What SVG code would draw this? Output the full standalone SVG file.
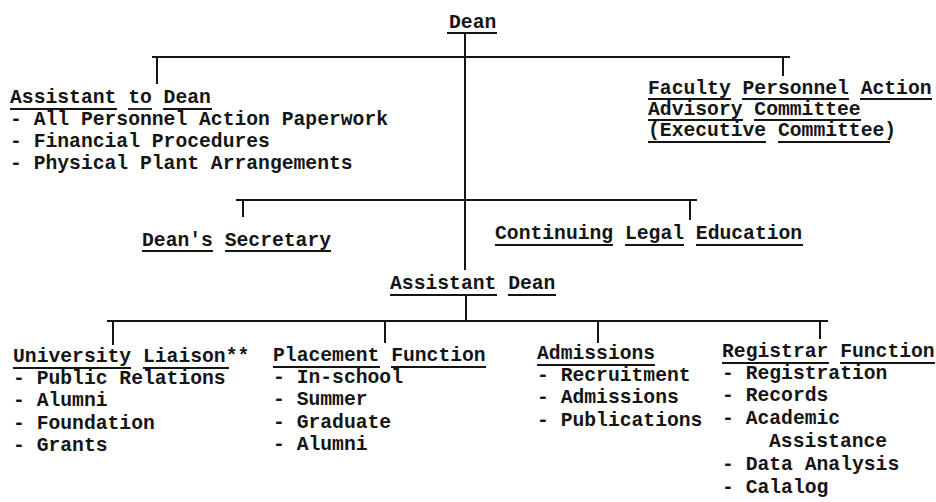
<svg xmlns="http://www.w3.org/2000/svg" width="936" height="502" viewBox="0 0 936 502">
<style>
  text { font-family: "Liberation Mono", "DejaVu Sans Mono", monospace; font-size: 19.7px; font-weight: bold; fill: #151515; }
  .ul { stroke: #151515; stroke-width: 1.8; }
  .conn line { stroke: #151515; stroke-width: 2; }
</style>
<rect width="936" height="502" fill="#ffffff"/>
<g id="connectors" class="conn">
  <line x1="465" y1="33" x2="465" y2="270"/>
  <line x1="152" y1="57" x2="790" y2="57"/>
  <line x1="157" y1="57" x2="157" y2="84"/>
  <line x1="783" y1="57" x2="783" y2="76"/>
  <line x1="236" y1="200" x2="697" y2="200"/>
  <line x1="243" y1="200" x2="243" y2="217"/>
  <line x1="690" y1="200" x2="690" y2="220"/>
  <line x1="466" y1="296" x2="466" y2="321"/>
  <line x1="107" y1="321" x2="828" y2="321"/>
  <line x1="113" y1="321" x2="113" y2="345"/>
  <line x1="385" y1="321" x2="385" y2="343"/>
  <line x1="598" y1="321" x2="598" y2="343"/>
  <line x1="820" y1="321" x2="820" y2="339"/>
</g>
<g id="dean">
  <text x="449" y="28">Dean</text>
  <line class="ul" x1="447" y1="33" x2="497" y2="33"/>
</g>
<g id="assistant-to-dean">
  <text x="10" y="103">Assistant to Dean</text>
  <line class="ul" x1="10" y1="109" x2="117" y2="109"/>
  <line class="ul" x1="128" y1="109" x2="152" y2="109"/>
  <line class="ul" x1="163" y1="109" x2="212" y2="109"/>
  <text x="10" y="125">- All Personnel Action Paperwork</text>
  <text x="10" y="147">- Financial Procedures</text>
  <text x="10" y="169">- Physical Plant Arrangements</text>
</g>
<g id="faculty-committee">
  <text x="648" y="94">Faculty Personnel Action</text>
  <line class="ul" x1="648" y1="99" x2="731" y2="99"/>
  <line class="ul" x1="742" y1="99" x2="849" y2="99"/>
  <line class="ul" x1="860" y1="99" x2="932" y2="99"/>
  <text x="648" y="115">Advisory Committee</text>
  <line class="ul" x1="648" y1="120" x2="743" y2="120"/>
  <line class="ul" x1="754" y1="120" x2="861" y2="120"/>
  <text x="648" y="136">(Executive Committee)</text>
  <line class="ul" x1="648" y1="142" x2="766" y2="142"/>
  <line class="ul" x1="778" y1="142" x2="890" y2="142"/>
</g>
<g id="deans-secretary">
  <text x="142" y="246">Dean's Secretary</text>
  <line class="ul" x1="142" y1="251" x2="213" y2="251"/>
  <line class="ul" x1="225" y1="251" x2="331" y2="251"/>
</g>
<g id="continuing-legal-education">
  <text x="495" y="239">Continuing Legal Education</text>
  <line class="ul" x1="495" y1="245" x2="613" y2="245"/>
  <line class="ul" x1="625" y1="245" x2="684" y2="245"/>
  <line class="ul" x1="696" y1="245" x2="803" y2="245"/>
</g>
<g id="assistant-dean">
  <text x="390" y="289">Assistant Dean</text>
  <line class="ul" x1="390" y1="295" x2="497" y2="295"/>
  <line class="ul" x1="508" y1="295" x2="556" y2="295"/>
</g>
<g id="university-liaison">
  <text x="13" y="362">University Liaison**</text>
  <line class="ul" x1="13" y1="368" x2="131" y2="368"/>
  <line class="ul" x1="143" y1="368" x2="229" y2="368"/>
  <text x="13" y="384">- Public Relations</text>
  <text x="13" y="406">- Alumni</text>
  <text x="13" y="429">- Foundation</text>
  <text x="13" y="451">- Grants</text>
</g>
<g id="placement-function">
  <text x="273" y="361">Placement Function</text>
  <line class="ul" x1="273" y1="367" x2="380" y2="367"/>
  <line class="ul" x1="391" y1="367" x2="486" y2="367"/>
  <text x="273" y="383">- In-school</text>
  <text x="273" y="405">- Summer</text>
  <text x="273" y="428">- Graduate</text>
  <text x="273" y="450">- Alumni</text>
</g>
<g id="admissions">
  <text x="537" y="359">Admissions</text>
  <line class="ul" x1="537" y1="365" x2="655" y2="365"/>
  <text x="537" y="381">- Recruitment</text>
  <text x="537" y="403">- Admissions</text>
  <text x="537" y="426">- Publications</text>
</g>
<g id="registrar-function">
  <text x="722" y="357">Registrar Function</text>
  <line class="ul" x1="722" y1="363" x2="829" y2="363"/>
  <line class="ul" x1="840" y1="363" x2="935" y2="363"/>
  <text x="722" y="379">- Registration</text>
  <text x="722" y="401">- Records</text>
  <text x="722" y="424">- Academic</text>
  <text x="769" y="447">Assistance</text>
  <text x="722" y="470">- Data Analysis</text>
  <text x="722" y="493">- Calalog</text>
</g>
</svg>
